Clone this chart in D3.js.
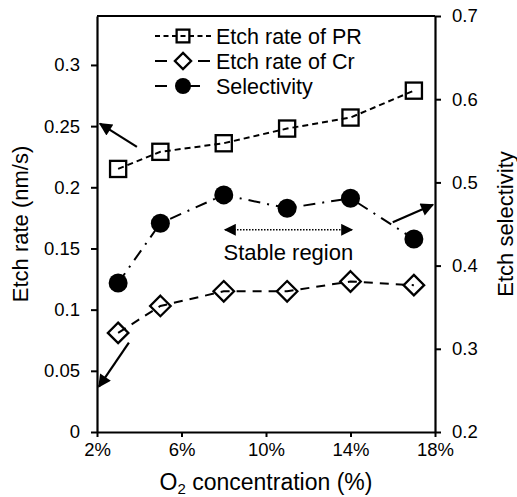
<!DOCTYPE html>
<html>
<head>
<meta charset="utf-8">
<script src="https://cdn.jsdelivr.net/npm/d3@7"></script>
<style>
  body { margin: 0; background: #fff; }
  svg text { font-family: "Liberation Sans", Arial, sans-serif; fill: #000; }
</style>
</head>
<body>
<div id="chart"></div>
<script>
// data
var o2 = [3, 5, 8, 11, 14, 17];
var ratePR = [0.215, 0.229, 0.236, 0.248, 0.257, 0.279];
var rateCr = [0.081, 0.103, 0.115, 0.115, 0.123, 0.120];
var selectivity = [0.379, 0.451, 0.485, 0.469, 0.481, 0.432];

var xTicks = [2, 6, 10, 14, 18];
var yLeftTicks = [0, 0.05, 0.1, 0.15, 0.2, 0.25, 0.3];
var yRightTicks = [0.2, 0.3, 0.4, 0.5, 0.6, 0.7];

var svgWidth = 517;
var svgHeight = 497;
var margin = { top: 16, right: 82, bottom: 65, left: 97 };
var width = svgWidth - margin.left - margin.right;
var height = svgHeight - margin.top - margin.bottom;

var svg = d3.select("#chart")
  .append("svg")
  .attr("width", svgWidth)
  .attr("height", svgHeight);

var defs = svg.append("defs");
defs.append("marker")
  .attr("id", "head")
  .attr("viewBox", "0 0 10 10")
  .attr("refX", 9).attr("refY", 5)
  .attr("markerWidth", 16).attr("markerHeight", 13)
  .attr("markerUnits", "userSpaceOnUse")
  .attr("orient", "auto-start-reverse")
  .append("path")
  .attr("d", "M0,0 L10,5 L0,10 z")
  .attr("fill", "#000");
defs.append("marker")
  .attr("id", "headSmall")
  .attr("viewBox", "0 0 10 10")
  .attr("refX", 9).attr("refY", 5)
  .attr("markerWidth", 14).attr("markerHeight", 12)
  .attr("markerUnits", "userSpaceOnUse")
  .attr("orient", "auto-start-reverse")
  .append("path")
  .attr("d", "M0,0 L10,5 L0,10 z")
  .attr("fill", "#000");

var chartGroup = svg.append("g")
  .attr("transform", `translate(${margin.left}, ${margin.top})`);

// scales
var xScale = d3.scaleLinear().domain([2, 18]).range([0, width]);
var yLeft = d3.scaleLinear().domain([0, 0.34]).range([height, 0]);
var yRight = d3.scaleLinear().domain([0.2, 0.7]).range([height, 0]);

// axes
var bottomAxis = d3.axisBottom(xScale).tickValues(xTicks)
  .tickFormat(d => d + "%").tickSize(5).tickSizeOuter(0);
var leftAxis = d3.axisLeft(yLeft).tickValues(yLeftTicks)
  .tickFormat(d => String(+d.toFixed(2))).tickSize(6).tickSizeOuter(0);
var rightAxis = d3.axisRight(yRight).tickValues(yRightTicks)
  .tickFormat(d3.format(".1f")).tickSize(6).tickSizeOuter(0);

function styleAxis(g) {
  g.select(".domain").attr("stroke-width", 2.2);
  g.selectAll(".tick line").attr("stroke-width", 2);
  g.selectAll(".tick text").style("font-size", "18.5px")
    .style("font-family", "Liberation Sans, Arial, sans-serif");
}

chartGroup.append("g")
  .attr("transform", `translate(0, ${height})`)
  .call(bottomAxis)
  .call(styleAxis)
  .selectAll(".tick text").attr("y", 10).attr("dy", "0.75em");

chartGroup.append("g").call(leftAxis).call(styleAxis)
  .selectAll(".tick text").attr("x", -17);

chartGroup.append("g")
  .attr("transform", `translate(${width}, 0)`)
  .call(rightAxis).call(styleAxis)
  .selectAll(".tick text").attr("x", 17);

// top border
chartGroup.append("line")
  .attr("x1", 0).attr("x2", width).attr("y1", 0).attr("y2", 0)
  .attr("stroke", "#000").attr("stroke-width", 2.2);

// series lines
var series = [
  { name: "Etch rate of PR", values: ratePR, y: yLeft, dash: "6,4", legendDash: "5,3.5", marker: "square" },
  { name: "Etch rate of Cr", values: rateCr, y: yLeft, dash: "9,7", legendDash: "12,31,12,50", marker: "diamond" },
  { name: "Selectivity", values: selectivity, y: yRight, dash: "12,7,2,7", legendDash: "12,10,23,100", marker: "circle" }
];

series.forEach(function(s) {
  var line = d3.line()
    .x((d, i) => xScale(o2[i]))
    .y(d => s.y(d));
  chartGroup.append("path")
    .datum(s.values)
    .attr("d", line)
    .attr("fill", "none")
    .attr("stroke", "#000")
    .attr("stroke-width", 2)
    .attr("stroke-dasharray", s.dash);
});

function drawMarker(g, type, cx, cy, size) {
  if (type === "square") {
    g.append("rect")
      .attr("x", cx - size * 0.85).attr("y", cy - size * 0.85)
      .attr("width", size * 1.7).attr("height", size * 1.7)
      .attr("fill", "none").attr("stroke", "#000").attr("stroke-width", 2.3);
  } else if (type === "diamond") {
    var h = size * 1.08;
    g.append("path")
      .attr("d", `M${cx},${cy - h} L${cx + h},${cy} L${cx},${cy + h} L${cx - h},${cy} Z`)
      .attr("fill", "none").attr("stroke", "#000").attr("stroke-width", 2.3);
  } else {
    g.append("circle")
      .attr("cx", cx).attr("cy", cy).attr("r", size)
      .attr("fill", "#000");
  }
}

series.forEach(function(s) {
  s.values.forEach(function(v, i) {
    drawMarker(chartGroup, s.marker, xScale(o2[i]), s.y(v), 9.5);
  });
});

// legend
var legend = chartGroup.append("g").attr("transform", "translate(58, 20)");
series.forEach(function(s, i) {
  var row = legend.append("g").attr("transform", `translate(0, ${i * 25})`);
  row.append("line")
    .attr("x1", 0).attr("x2", 57).attr("y1", 0).attr("y2", 0)
    .attr("stroke", "#000").attr("stroke-width", 2)
    .attr("stroke-dasharray", s.legendDash);
  drawMarker(row, s.marker, 28, 0, s.marker === "circle" ? 8 : 7.5);
  row.append("text")
    .attr("x", 61).attr("y", 0).attr("dy", "0.35em")
    .style("font-size", "21.5px")
    .text(s.name);
});

// annotation arrows (pointing to the axis that a series belongs to)
function arrow(x1, y1, x2, y2, mk) {
  chartGroup.append("line")
    .attr("x1", x1).attr("y1", y1).attr("x2", x2).attr("y2", y2)
    .attr("stroke", "#000").attr("stroke-width", 2.2)
    .attr("marker-end", `url(#${mk})`);
}
arrow(xScale(3.89), yLeft(0.233), xScale(2.14), yLeft(0.252), "head");
arrow(xScale(3.51), yLeft(0.073), xScale(2.09), yLeft(0.037), "head");
arrow(xScale(16.0), yRight(0.452), xScale(17.9), yRight(0.473), "head");

// stable region
chartGroup.append("line")
  .attr("x1", xScale(8.06)).attr("x2", xScale(14.07))
  .attr("y1", yRight(0.443)).attr("y2", yRight(0.443))
  .attr("stroke", "#000").attr("stroke-width", 1.5)
  .attr("stroke-dasharray", "1.5,1.5")
  .attr("marker-start", "url(#headSmall)")
  .attr("marker-end", "url(#headSmall)");

chartGroup.append("text")
  .attr("x", xScale(11.06)).attr("y", yRight(0.407))
  .attr("text-anchor", "middle")
  .style("font-size", "22px")
  .text("Stable region");

// axis titles
var xTitle = svg.append("text")
  .attr("x", margin.left + width / 2).attr("y", 490)
  .attr("text-anchor", "middle")
  .style("font-size", "23px");
xTitle.append("tspan").text("O");
xTitle.append("tspan").attr("dy", 4).style("font-size", "15px").text("2");
xTitle.append("tspan").attr("dy", -4).text(" concentration (%)");

svg.append("text")
  .attr("transform", `translate(28, ${margin.top + height / 2}) rotate(-90)`)
  .attr("text-anchor", "middle")
  .style("font-size", "22px")
  .text("Etch rate (nm/s)");

svg.append("text")
  .attr("transform", `translate(513, ${margin.top + height / 2}) rotate(-90)`)
  .attr("text-anchor", "middle")
  .style("font-size", "22px")
  .text("Etch selectivity");
</script>
</body>
</html>
